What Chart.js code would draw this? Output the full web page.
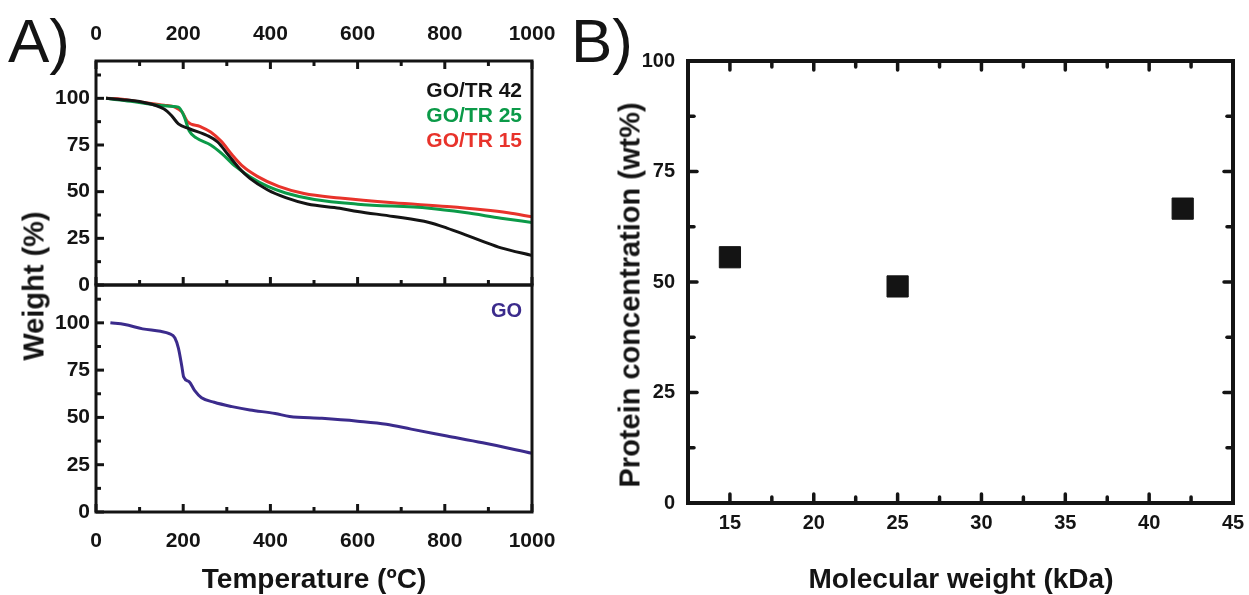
<!DOCTYPE html>
<html><head><meta charset="utf-8">
<script src="https://cdn.jsdelivr.net/npm/chart.js@4.4.1/dist/chart.umd.min.js"></script>
<style>
html,body{margin:0;padding:0;background:#fff}
body{width:1249px;height:595px;position:relative;overflow:hidden;font-family:"Liberation Sans",Arial,sans-serif}
canvas{position:absolute}
.t{position:absolute;white-space:nowrap;line-height:1}
</style></head><body>
<canvas id="a1" width="560" height="300" style="left:0;top:0"></canvas>
<canvas id="a2" width="560" height="320" style="left:0;top:275px"></canvas>
<canvas id="b" width="689" height="595" style="left:560px;top:0"></canvas>
<script>
// ---------- DATA ----------
// Panel A (TGA): temperature (ºC) and weight (%)
const tempGOTR42 = [23, 60, 107, 156, 173, 189, 214, 255, 279, 304, 329, 353, 394, 435, 485, 559, 600, 682, 764, 805, 846, 887, 929, 1000];
const wGOTR42    = [100, 99.3, 97.9, 94.3, 90.8, 86.3, 83.7, 80.1, 76.6, 69.5, 62.4, 57.1, 50.9, 46.8, 43.4, 41.1, 39.4, 36.7, 33.5, 30.5, 27, 23.4, 19.9, 15.8];
const tempGOTR25 = [23, 60, 107, 156, 189, 201, 214, 230, 263, 288, 320, 353, 394, 435, 501, 600, 764, 846, 929, 1000];
const wGOTR25    = [100, 99, 97.5, 96, 95.3, 91, 82.5, 78.8, 75, 70.5, 63.5, 58, 52.8, 49.3, 45.8, 43.3, 41.1, 38.8, 35.8, 33.5];
const tempGOTR15 = [23, 60, 107, 156, 181, 197, 210, 238, 263, 288, 312, 337, 370, 419, 477, 559, 682, 805, 887, 945, 1000];
const wGOTR15    = [100, 99.5, 97.9, 96.3, 95.3, 92.8, 87.5, 85, 82, 76.8, 69.8, 63.5, 58.2, 52.8, 49, 46.6, 44, 42, 40.3, 38.7, 36.5];
const tempGO     = [33, 66, 107, 148, 168, 181, 189, 197, 201, 214, 226, 242, 271, 312, 353, 411, 444, 518, 600, 666, 723, 805, 887, 1000];
const wGO        = [100, 99.1, 96.8, 95.5, 94.3, 92, 86.6, 76.8, 71.4, 68.8, 64.3, 60.4, 58, 55.7, 53.9, 52.1, 50.5, 49.5, 48, 46.4, 43.8, 40.2, 36.6, 31];
const seriesNamesA = ["GO/TR 42", "GO/TR 25", "GO/TR 15"];
const seriesNameGO = "GO";
// Panel B: molecular weight (kDa) vs protein concentration (wt%)
const molWeight = [15, 25, 42];
const proteinConc = [55.6, 49, 66.6];
// Ticks
const tempTicks = [0, 200, 400, 600, 800, 1000];
const tempMinor = [100, 300, 500, 700, 900];
const weightTicks = [0, 25, 50, 75, 100];
const weightMinor = [12.5, 37.5, 62.5, 87.5, 112.5];
const mwTicks = [15, 20, 25, 30, 35, 40, 45];
const mwMinor = [17.5, 22.5, 27.5, 32.5, 37.5, 42.5];
const concTicks = [0, 25, 50, 75, 100];
const concMinor = [12.5, 37.5, 62.5, 87.5];

// ---------- STYLE ----------
const INK = '#141414';
const FONT = '"Liberation Sans", Arial, sans-serif';
const colors = {k:'#141414', g:'#0b9a48', r:'#e8332b', p:'#3b2b8c'};

const pts = (xs, ys) => xs.map((x, i) => ({x, y: ys[i]}));

const frameTicks = {
  id: 'frameTicks',
  afterDatasetsDraw(chart, args, o) {
    const {ctx, chartArea: {left, right, top, bottom}} = chart;
    const xs = chart.scales.x, ys = chart.scales.y;
    ctx.save();
    ctx.strokeStyle = INK;
    ctx.lineWidth = o.tickWidth;
    ctx.lineCap = o.cap;
    const seg = (a, b, c, d) => { ctx.beginPath(); ctx.moveTo(a, b); ctx.lineTo(c, d); ctx.stroke(); };
    const doX = (vals, len) => vals.forEach(v => {
      const p = xs.getPixelForValue(v);
      if (o.sides.includes('b')) seg(p, bottom, p, bottom - len);
      if (o.sides.includes('t')) seg(p, top, p, top + len);
    });
    const doY = (vals, len) => vals.forEach(v => {
      const p = ys.getPixelForValue(v);
      if (o.sides.includes('l')) seg(left, p, left + len, p);
      if (o.sides.includes('r')) seg(right, p, right - len, p);
    });
    doX(o.xMajor, o.major); doX(o.xMinor, o.minor);
    doY(o.yMajor, o.major); doY(o.yMinor, o.minor);
    ctx.lineCap = 'butt';
    ctx.lineJoin = 'miter';
    ctx.lineWidth = o.frame;
    ctx.strokeRect(left, top, right - left, bottom - top);
    ctx.restore();
  }
};

function fixTicks(vals) { return s => { s.ticks = vals.map(v => ({value: v})); }; }

function lineDs(label, xs, ys, color) {
  return {label, data: pts(xs, ys), borderColor: color, backgroundColor: color, borderWidth: 3,
    showLine: true, pointRadius: 0, cubicInterpolationMode: 'monotone', fill: false};
}

const baseOpts = {
  responsive: false, animation: false, devicePixelRatio: 1,
  plugins: {legend: {display: false}, tooltip: {enabled: false}}
};

function axisY(width, pad, ticks, font, min, max) {
  return {type: 'linear', position: 'left', min, max,
    grid: {display: false, drawTicks: false}, border: {display: false},
    afterBuildTicks: fixTicks(ticks),
    afterFit: s => { s.width = width; s.paddingTop = 0; s.paddingBottom = 0; },
    ticks: {font, color: INK, padding: pad, autoSkip: false, callback: v => String(v)}};
}
function axisX(pos, height, pad, ticks, font, min, max, show) {
  return {type: 'linear', position: pos, min, max,
    grid: {display: false, drawTicks: false}, border: {display: false},
    afterBuildTicks: fixTicks(ticks),
    afterFit: s => { s.height = height; s.paddingLeft = 0; s.paddingRight = 0; },
    ticks: {display: show, font, color: INK, padding: pad, autoSkip: false, maxRotation: 0, minRotation: 0,
      callback: v => String(v)}};
}

const fontA = {family: FONT, size: 21, weight: 'bold'};
const fontB = {family: FONT, size: 20, weight: 'bold'};

// Panel A top
new Chart(document.getElementById('a1'), {
  type: 'scatter',
  data: {datasets: [
    lineDs(seriesNamesA[0], tempGOTR42, wGOTR42, colors.k),
    lineDs(seriesNamesA[1], tempGOTR25, wGOTR25, colors.g),
    lineDs(seriesNamesA[2], tempGOTR15, wGOTR15, colors.r)
  ]},
  options: Object.assign({}, baseOpts, {
    layout: {padding: {left: 0, top: 0, right: 28, bottom: 15}},
    scales: {
      x: axisX('top', 61, 14, tempTicks, fontA, 0, 1000, true),
      y: axisY(96, 6, weightTicks, fontA, 0, 120)
    },
    plugins: Object.assign({}, baseOpts.plugins, {frameTicks: {sides: 'tbl', xMajor: tempTicks, xMinor: tempMinor,
      yMajor: weightTicks, yMinor: weightMinor, major: 8, minor: 5, tickWidth: 3, frame: 3, cap: 'butt'}})
  }),
  plugins: [frameTicks]
});

// Panel A bottom
new Chart(document.getElementById('a2'), {
  type: 'scatter',
  data: {datasets: [lineDs(seriesNameGO, tempGO, wGO, colors.p)]},
  options: Object.assign({}, baseOpts, {
    layout: {padding: {left: 0, top: 10, right: 28, bottom: 0}},
    scales: {
      x: axisX('bottom', 83, 17, tempTicks, fontA, 0, 1000, true),
      y: axisY(96, 6, weightTicks, fontA, 0, 120)
    },
    plugins: Object.assign({}, baseOpts.plugins, {frameTicks: {sides: 'bl', xMajor: tempTicks, xMinor: tempMinor,
      yMajor: weightTicks, yMinor: weightMinor, major: 8, minor: 5, tickWidth: 3, frame: 3, cap: 'butt'}})
  }),
  plugins: [frameTicks]
});

// Panel B
new Chart(document.getElementById('b'), {
  type: 'scatter',
  data: {datasets: [{label: 'Protein concentration', data: pts(molWeight, proteinConc),
    pointStyle: 'rect', pointRadius: 15, borderWidth: 1, backgroundColor: INK, borderColor: INK, showLine: false}]},
  options: Object.assign({}, baseOpts, {
    layout: {padding: {left: 0, top: 61, right: 14, bottom: 0}},
    scales: {
      x: axisX('bottom', 92, 8, mwTicks, fontB, 12.5, 45, true),
      y: axisY(128, 13, concTicks, fontB, 0, 100)
    },
    plugins: Object.assign({}, baseOpts.plugins, {frameTicks: {sides: 'tblr', xMajor: mwTicks, xMinor: mwMinor,
      yMajor: concTicks, yMinor: concMinor, major: 9, minor: 6, tickWidth: 3.5, frame: 4, cap: 'round'}})
  }),
  plugins: [frameTicks]
});

// ---------- TEXT ----------
function txt(s, x, baseline, size, opt) {
  opt = opt || {};
  const d = document.createElement('div');
  d.className = 't';
  d.textContent = s;
  d.style.fontSize = size + 'px';
  d.style.fontWeight = opt.weight || 'bold';
  d.style.color = opt.color || INK;
  d.style.fontFamily = opt.family || FONT;
  if (opt.rotate) {
    d.style.left = x + 'px'; d.style.top = baseline + 'px';
    d.style.transform = 'translate(-50%,-50%) rotate(-90deg)';
  } else {
    d.style.top = (baseline - 0.8465 * size) + 'px';
    d.style.left = x + 'px';
    if (opt.align === 'right') d.style.transform = 'translateX(-100%)';
    if (opt.align === 'center') d.style.transform = 'translateX(-50%)';
  }
  document.body.appendChild(d);
}
txt('A)', 8, 62, 62, {weight: 'normal'});
txt('B)', 571, 62, 62, {weight: 'normal'});
txt(seriesNamesA[0], 522, 97, 21, {align: 'right', color: colors.k});
txt(seriesNamesA[1], 522, 122, 21, {align: 'right', color: colors.g});
txt(seriesNamesA[2], 522, 147, 21, {align: 'right', color: colors.r});
txt(seriesNameGO, 522, 317, 20, {align: 'right', color: colors.p});
txt('Temperature (ºC)', 314, 589, 28, {align: 'center'});
txt('Molecular weight (kDa)', 961, 589, 28, {align: 'center'});
txt('Weight (%)', 34, 286, 29, {rotate: true});
txt('Protein concentration (wt%)', 630, 295, 29, {rotate: true});
</script>
</body></html>
